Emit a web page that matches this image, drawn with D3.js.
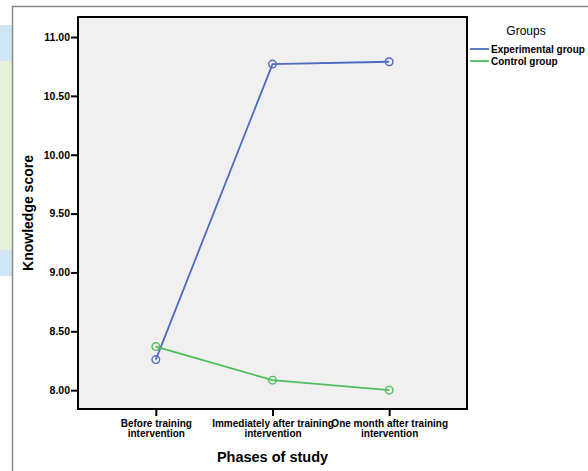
<!DOCTYPE html>
<html>
<head>
<meta charset="utf-8">
<script src="https://cdn.jsdelivr.net/npm/d3@7"></script>
<style>
  body { margin: 0; background: #fff; }
  text { font-family: "Liberation Sans", Arial, sans-serif; font-weight: bold; fill: #000; }
</style>
</head>
<body>
<svg id="chart" width="588" height="471"></svg>
<script>
const phases = [
  ['Before training', 'intervention'],
  ['Immediately after training', 'intervention'],
  ['One month after training', 'intervention']
];
const groups = ['Experimental group', 'Control group'];
const colors = ['#4f6bbf', '#4dbf5a'];
const experimental = [8.26, 10.77, 10.79];
const control = [8.37, 8.085, 8.0];
const yTicks = [8.0, 8.5, 9.0, 9.5, 10.0, 10.5, 11.0];

const width = 588;
const height = 471;
const plot = { left: 78, top: 17, right: 467, bottom: 409 };

const svg = d3.select('#chart');

// page background strip at the left, outside the figure frame
svg.append('rect').attr('x', 0).attr('y', 25).attr('width', 12).attr('height', 36).attr('fill', '#cfe6f4');
svg.append('rect').attr('x', 0).attr('y', 61).attr('width', 12).attr('height', 189).attr('fill', '#e4f0d9');
svg.append('rect').attr('x', 0).attr('y', 250).attr('width', 12).attr('height', 26).attr('fill', '#cfe6f4');

// figure frame
svg.append('path')
  .attr('d', `M12.5,${height} V6.5 H${width}`)
  .attr('fill', 'none').attr('stroke', '#8a8a8a').attr('stroke-width', 1.5);

const x = d3.scalePoint()
  .domain(d3.range(phases.length))
  .range([plot.left, plot.right])
  .padding(0.667);

const y = d3.scaleLinear()
  .domain([7.84, 11.17])
  .range([plot.bottom, plot.top]);

svg.append('rect')
  .attr('x', plot.left).attr('y', plot.top)
  .attr('width', plot.right - plot.left).attr('height', plot.bottom - plot.top)
  .attr('fill', '#f0f0f0').attr('stroke', '#000').attr('stroke-width', 2);

// y axis
const yAxis = svg.append('g')
  .attr('transform', `translate(${plot.left},0)`)
  .call(d3.axisLeft(y).tickValues(yTicks).tickFormat(d3.format('.2f')).tickSize(7).tickPadding(1));
yAxis.select('.domain').remove();
yAxis.selectAll('line').attr('stroke', '#000').attr('stroke-width', 2);
yAxis.selectAll('text').style('font-size', '10.5px').style('font-family', '"Liberation Sans", Arial, sans-serif').style('font-weight', 'bold');

// x axis
const xAxis = svg.append('g')
  .attr('transform', `translate(0,${plot.bottom})`)
  .call(d3.axisBottom(x).tickSize(7).tickFormat(''));
xAxis.select('.domain').remove();
xAxis.selectAll('line').attr('stroke', '#000').attr('stroke-width', 2);

xAxis.selectAll('.tick').each(function (d) {
  const t = d3.select(this).append('text')
    .attr('text-anchor', 'middle')
    .style('font-size', '10px');
  phases[d].forEach((line, i) => {
    t.append('tspan').attr('x', 0).attr('y', 18 + i * 9.5).text(line);
  });
});

// axis titles
svg.append('text')
  .attr('transform', `translate(33,${(plot.top + plot.bottom) / 2}) rotate(-90)`)
  .attr('text-anchor', 'middle')
  .style('font-size', '14px')
  .text('Knowledge score');

svg.append('text')
  .attr('x', (plot.left + plot.right) / 2)
  .attr('y', 462)
  .attr('text-anchor', 'middle')
  .style('font-size', '14.5px')
  .text('Phases of study');

// lines and markers
const series = [experimental, control];
const line = d3.line().x((d, i) => x(i)).y(d => y(d));

series.forEach((vals, k) => {
  svg.append('path')
    .datum(vals)
    .attr('d', line)
    .attr('fill', 'none')
    .attr('stroke', colors[k])
    .attr('stroke-width', 1.8);
  svg.selectAll(null)
    .data(vals)
    .enter().append('circle')
    .attr('cx', (d, i) => x(i))
    .attr('cy', d => y(d))
    .attr('r', 3.8)
    .attr('fill', 'none')
    .attr('stroke', colors[k])
    .attr('stroke-width', 1.4);
});

// legend
svg.append('text')
  .attr('x', 526).attr('y', 35)
  .attr('text-anchor', 'middle')
  .style('font-size', '12px')
  .style('font-weight', 'normal')
  .text('Groups');

const legend = svg.selectAll('.legend')
  .data(groups)
  .enter().append('g')
  .attr('transform', (d, i) => `translate(470,${49 + i * 12})`);
legend.append('line')
  .attr('x1', 0).attr('x2', 19)
  .attr('stroke', (d, i) => colors[i]).attr('stroke-width', 1.8);
legend.append('text')
  .attr('x', 21).attr('y', 3.5)
  .style('font-size', '10px')
  .text(d => d);
</script>
</body>
</html>
